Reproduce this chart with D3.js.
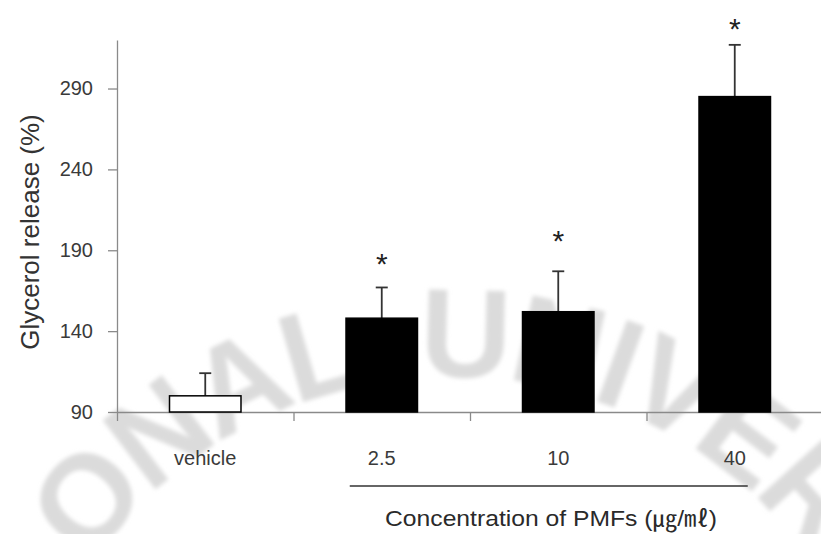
<!DOCTYPE html>
<html>
<head>
<meta charset="utf-8">
<script src="https://cdn.jsdelivr.net/npm/d3@7"></script>
<style>
  body { margin: 0; background: #fff; }
  svg { display: block; }
</style>
</head>
<body>
<div id="chart"></div>
<script>
// chart values
var categories = ["vehicle", "2.5", "10", "40"];
var glycerol = [100, 148, 152, 285];
var errors = [14, 19, 25, 32];
var starLevel = [null, 186, 200, 331];
var yTicks = [90, 140, 190, 240, 290];
var watermark = "ONAL UNIVER";

var W = 821, H = 534;
var svg = d3.select("#chart").append("svg")
    .attr("width", W).attr("height", H);

// faint watermark on an arc behind the chart
var defs = svg.append("defs");
defs.append("filter").attr("id", "blur")
    .append("feGaussianBlur").attr("stdDeviation", 2.2);

var cx = 452, cy = 820, rad = 443;
var a0 = -75 * Math.PI / 180, a1 = 75 * Math.PI / 180;
defs.append("path").attr("id", "wmArc")
    .attr("d", "M" + (cx + rad * Math.sin(a0)) + "," + (cy - rad * Math.cos(a0)) +
        " A" + rad + "," + rad + " 0 0 1 " + (cx + rad * Math.sin(a1)) + "," + (cy - rad * Math.cos(a1)));

svg.append("g").attr("filter", "url(#blur)")
    .append("text")
    .attr("font-family", "Liberation Sans, Arial, sans-serif")
    .attr("font-weight", "bold")
    .attr("font-size", 126)
    .attr("letter-spacing", -5)
    .attr("word-spacing", 28)
    .attr("fill", "#dbdbdb")
    .append("textPath")
    .attr("href", "#wmArc")
    .attr("startOffset", rad * 20 * Math.PI / 180)
    .text(watermark);

var y = d3.scaleLinear().domain([90, 320]).range([412, 40]);
var x = d3.scaleBand().domain(categories).range([117, 823]).padding(0);
var xEdge = d3.scaleLinear().domain([0, categories.length]).range([117, 823]);
var barW = x.bandwidth() * 0.405;

// y axis
var yAxis = svg.append("g")
    .attr("transform", "translate(117,0)")
    .call(d3.axisLeft(y).tickValues(yTicks).tickSize(9).tickSizeOuter(0).tickPadding(15));
yAxis.select(".domain").attr("stroke", "#8a8a8a").attr("stroke-width", 1.3);
yAxis.selectAll(".tick line").attr("stroke", "#8a8a8a").attr("stroke-width", 1.3);
yAxis.selectAll(".tick text")
    .attr("font-family", "Liberation Sans, Arial, sans-serif")
    .attr("font-size", 20).attr("fill", "#3a3a3a");

// x axis with ticks between groups
var xAxis = svg.append("g")
    .attr("transform", "translate(0,412)")
    .call(d3.axisBottom(xEdge).tickValues(d3.range(categories.length + 1))
        .tickSize(9).tickSizeOuter(0).tickFormat(""));
xAxis.select(".domain").attr("stroke", "#8a8a8a").attr("stroke-width", 1.3);
xAxis.selectAll(".tick line").attr("stroke", "#8a8a8a").attr("stroke-width", 1.3);

svg.append("g").selectAll("text")
    .data(categories).enter().append("text")
    .attr("x", function (d) { return x(d) + x.bandwidth() / 2; })
    .attr("y", 465)
    .attr("text-anchor", "middle")
    .attr("font-family", "Liberation Sans, Arial, sans-serif")
    .attr("font-size", 20).attr("fill", "#3a3a3a")
    .text(function (d) { return d; });

// bars
var rows = categories.map(function (c, i) {
    return { cat: c, v: glycerol[i], e: errors[i], star: starLevel[i], i: i };
});

var g = svg.append("g");
g.selectAll("line.err").data(rows).enter().append("line")
    .attr("class", "err")
    .attr("x1", function (d) { return x(d.cat) + x.bandwidth() / 2; })
    .attr("x2", function (d) { return x(d.cat) + x.bandwidth() / 2; })
    .attr("y1", function (d) { return y(d.v); })
    .attr("y2", function (d) { return y(d.v + d.e); })
    .attr("stroke", "#333").attr("stroke-width", 1.8);
g.selectAll("line.cap").data(rows).enter().append("line")
    .attr("class", "cap")
    .attr("x1", function (d) { return x(d.cat) + x.bandwidth() / 2 - 6; })
    .attr("x2", function (d) { return x(d.cat) + x.bandwidth() / 2 + 6; })
    .attr("y1", function (d) { return y(d.v + d.e); })
    .attr("y2", function (d) { return y(d.v + d.e); })
    .attr("stroke", "#333").attr("stroke-width", 1.8);

g.selectAll("rect").data(rows).enter().append("rect")
    .attr("x", function (d) { return x(d.cat) + (x.bandwidth() - barW) / 2; })
    .attr("y", function (d) { return y(d.v); })
    .attr("width", barW)
    .attr("height", function (d) { return y(90) - y(d.v); })
    .attr("fill", function (d) { return d.i === 0 ? "#fff" : "#000"; })
    .attr("stroke", "#000").attr("stroke-width", 1.5);

// significance stars
g.selectAll("text.star").data(rows.filter(function (d) { return d.star; }))
    .enter().append("text")
    .attr("class", "star")
    .attr("x", function (d) { return x(d.cat) + x.bandwidth() / 2; })
    .attr("y", function (d) { return y(d.star) + 17; })
    .attr("text-anchor", "middle")
    .attr("font-family", "Liberation Sans, Arial, sans-serif")
    .attr("font-size", 30).attr("fill", "#222")
    .text("*");

// axis titles
svg.append("text")
    .attr("transform", "translate(39,232) rotate(-90)")
    .attr("text-anchor", "middle")
    .attr("font-family", "Liberation Sans, Arial, sans-serif")
    .attr("font-size", 26).attr("fill", "#333")
    .text("Glycerol release (%)");

svg.append("line")
    .attr("x1", x("2.5") + x.bandwidth() / 2 - 32)
    .attr("x2", x("40") + x.bandwidth() / 2 + 13)
    .attr("y1", 486).attr("y2", 486)
    .attr("stroke", "#333").attr("stroke-width", 1.5);

svg.append("text")
    .attr("x", 385).attr("y", 526)
    .attr("textLength", 332).attr("lengthAdjust", "spacingAndGlyphs")
    .attr("font-family", "Liberation Sans, Arial, 'Noto Sans CJK KR', sans-serif")
    .attr("font-size", 22).attr("fill", "#2a2a2a")
    .text("Concentration of PMFs (\u338D/\u3396)");
</script>
</body>
</html>
